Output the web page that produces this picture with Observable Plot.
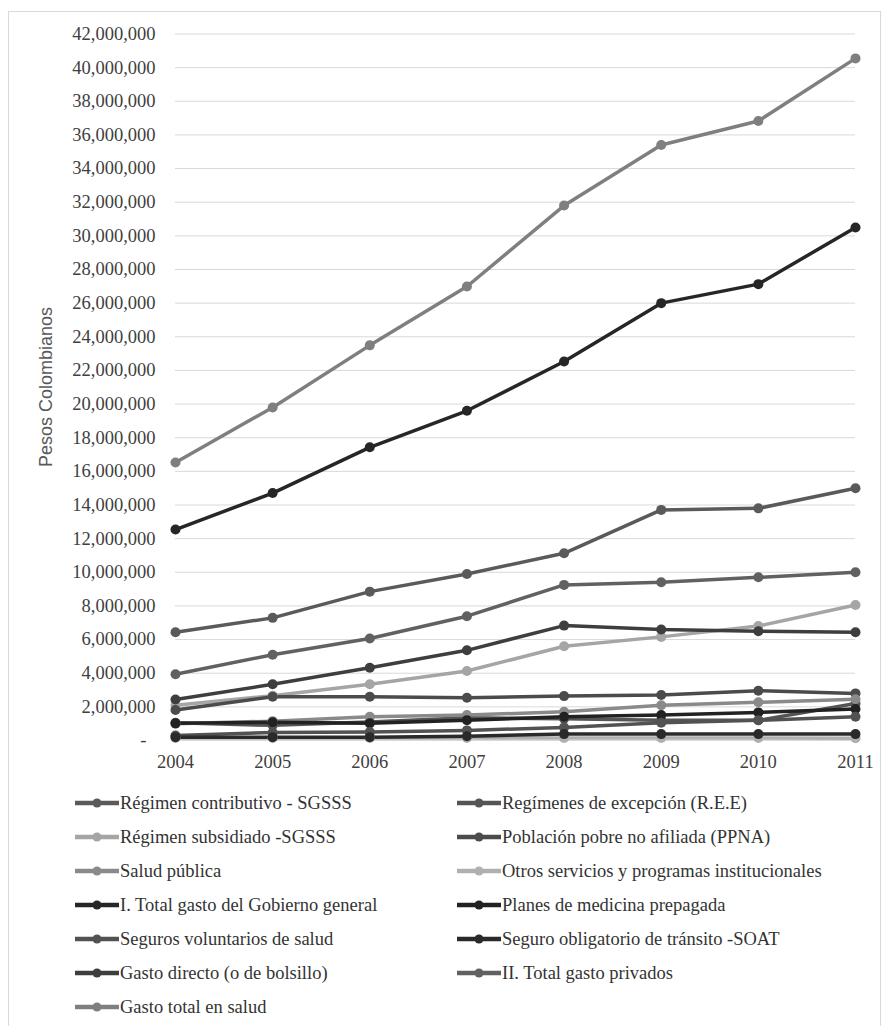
<!DOCTYPE html>
<html>
<head>
<meta charset="utf-8">
<script src="https://cdn.jsdelivr.net/npm/d3@7"></script>
<script src="https://cdn.jsdelivr.net/npm/@observablehq/plot@0.6"></script>
<style>
  html, body { margin: 0; padding: 0; background: #fff; }
  #frame { position: absolute; left: 8px; top: 11px; width: 873px; height: 1030px; border: 1px solid #d9d9d9; box-sizing: border-box; }
  #chart { position: absolute; left: 0; top: 0; }
  #chart svg text { font-family: "Liberation Serif", serif !important; font-size: 18.5px; fill: #404040; }
  #ytitle { position: absolute; left: 46px; top: 387px; transform: translate(-50%, -50%) rotate(-90deg); font-family: "Liberation Sans", sans-serif; font-size: 18px; color: #595959; white-space: nowrap; }
  #legend { position: absolute; left: 0; top: 786px; font-family: "Liberation Serif", serif; font-size: 18.5px; color: #333; }
  .item { position: absolute; height: 34px; display: flex; align-items: center; white-space: nowrap; }
  .item svg { margin-right: 1px; }
</style>
</head>
<body>
<div id="frame"></div>
<div id="chart"></div>
<div id="ytitle">Pesos Colombianos</div>
<div id="legend"></div>
<script>
const years = [2004, 2005, 2006, 2007, 2008, 2009, 2010, 2011];

const seriesNames = [
  "Régimen contributivo - SGSSS",
  "Regímenes de excepción (R.E.E)",
  "Régimen subsidiado -SGSSS",
  "Población pobre no afiliada (PPNA)",
  "Salud pública",
  "Otros servicios y programas institucionales",
  "I. Total gasto del Gobierno general",
  "Planes de medicina prepagada",
  "Seguros voluntarios de salud",
  "Seguro obligatorio de tránsito -SOAT",
  "Gasto directo (o de bolsillo)",
  "II. Total gasto privados",
  "Gasto total en salud"
];

const seriesColors = [
  "#5a5a5a", "#555555", "#a5a5a5", "#4b4b4b", "#8a8a8a", "#b0b0b0",
  "#262626", "#222222", "#525252", "#2a2a2a", "#3e3e3e", "#616161", "#7f7f7f"
];

const contributivo  = [6430000, 7290000, 8850000, 9900000, 11130000, 13710000, 13800000, 15000000];
const excepcion     = [1050000, 900000, 1100000, 1350000, 1300000, 1200000, 1200000, 2200000];
const subsidiado    = [2100000, 2660000, 3340000, 4130000, 5600000, 6160000, 6800000, 8060000];
const ppna          = [1810000, 2600000, 2600000, 2540000, 2640000, 2700000, 2960000, 2800000];
const saludPublica  = [1000000, 1150000, 1410000, 1510000, 1710000, 2100000, 2270000, 2450000];
const otros         = [150000, 150000, 150000, 150000, 150000, 150000, 150000, 140000];
const totalGobierno = [12540000, 14710000, 17430000, 19600000, 22530000, 26000000, 27130000, 30500000];
const prepagada     = [1020000, 1080000, 1020000, 1210000, 1410000, 1510000, 1670000, 1870000];
const seguros       = [300000, 480000, 510000, 600000, 780000, 1050000, 1200000, 1410000];
const soat          = [200000, 200000, 200000, 250000, 380000, 380000, 380000, 380000];
const directo       = [2440000, 3340000, 4330000, 5360000, 6830000, 6600000, 6500000, 6430000];
const totalPrivados = [3940000, 5100000, 6060000, 7390000, 9250000, 9410000, 9700000, 10000000];
const gastoTotal    = [16530000, 19800000, 23490000, 26990000, 31800000, 35400000, 36830000, 40550000];

const yTicks = d3.range(0, 42000001, 2000000);

const seriesValues = [contributivo, excepcion, subsidiado, ppna, saludPublica, otros,
  totalGobierno, prepagada, seguros, soat, directo, totalPrivados, gastoTotal];

const data = [];
seriesNames.forEach((name, i) => {
  years.forEach((yr, j) => data.push({series: name, year: yr, value: seriesValues[i][j]}));
});

const fmt = d3.format(",");

const chart = Plot.plot({
  width: 889,
  height: 790,
  marginLeft: 175,
  marginRight: 34,
  marginTop: 33.5,
  marginBottom: 50,
  style: {fontFamily: "'Liberation Serif', serif", fontSize: "18px", color: "#404040", background: "transparent"},
  x: {domain: [2004, 2011], ticks: years, tickFormat: "d", label: null},
  y: {domain: [0, 42000000], label: null},
  color: {domain: seriesNames, range: seriesColors},
  marks: [
    Plot.ruleY(yTicks, {stroke: "#d9d9d9", strokeWidth: 1}),
    Plot.axisY(yTicks.filter(d => d > 0), {tickSize: 0, tickPadding: 20, tickFormat: fmt, label: null}),
    Plot.axisY([0], {tickSize: 0, tickPadding: 29, tickFormat: () => "-", label: null}),
    Plot.axisX(years, {tickSize: 0, tickPadding: 14, tickFormat: "d", label: null}),
    Plot.line(data, {x: "year", y: "value", z: "series", stroke: "series", strokeWidth: 3.5}),
    Plot.dot(data, {x: "year", y: "value", fill: "series", r: 5})
  ]
});
document.getElementById("chart").appendChild(chart);

// Legend
const legend = document.getElementById("legend");
const col1 = [0, 2, 4, 6, 8, 10, 12];
const col2 = [1, 3, 5, 7, 9, 11];
function addItem(idx, left, row) {
  const div = document.createElement("div");
  div.className = "item";
  div.style.left = left + "px";
  div.style.top = (row * 34) + "px";
  div.innerHTML = `<svg width="44" height="12"><line x1="0" y1="6" x2="44" y2="6" stroke="${seriesColors[idx]}" stroke-width="4.5"/><circle cx="22" cy="6" r="4.5" fill="${seriesColors[idx]}"/></svg><span>${seriesNames[idx]}</span>`;
  legend.appendChild(div);
}
col1.forEach((idx, r) => addItem(idx, 75, r));
col2.forEach((idx, r) => addItem(idx, 457, r));
</script>
</body>
</html>
